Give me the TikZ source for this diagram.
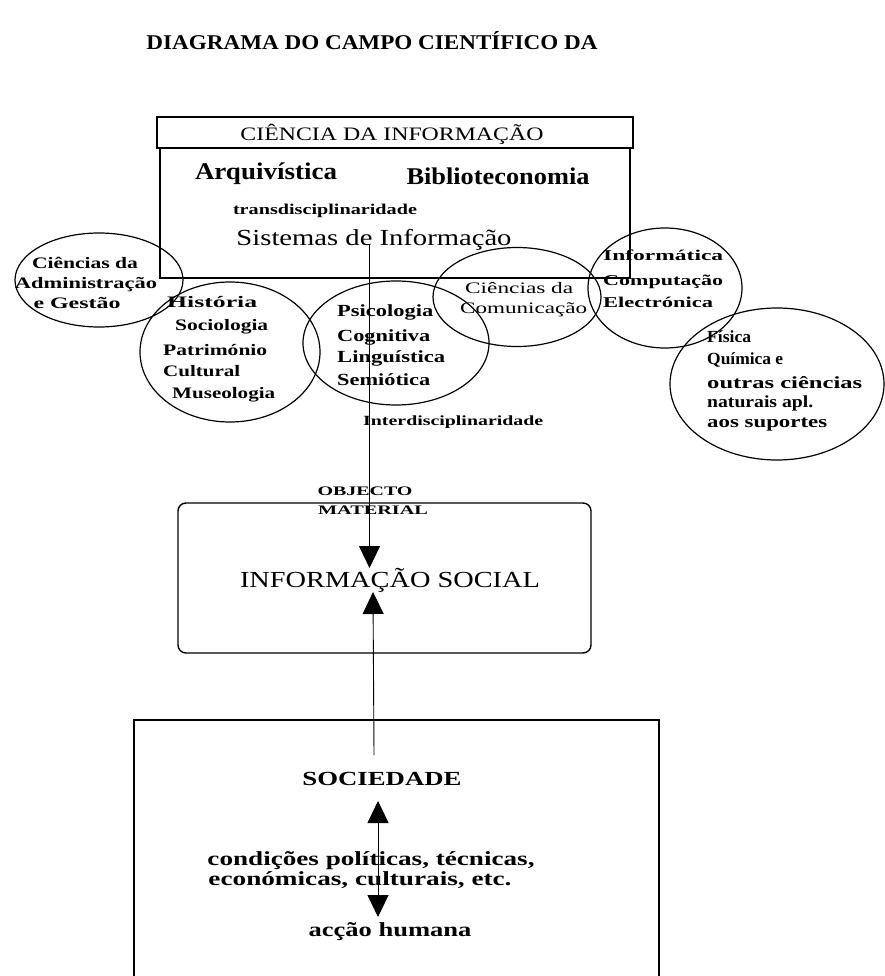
\documentclass[tikz,border=0pt]{standalone}
\usepackage{fontspec}
\setmainfont{Liberation Serif}
\usepackage{graphicx}
\usetikzlibrary{arrows.meta,shapes.geometric}
\newcommand\fsz[1]{\fontsize{#1pt}{#1pt}\selectfont}
\newcommand\fw[2]{\resizebox{#1pt}{\height}{#2}}
\begin{document}
\begin{tikzpicture}[x=1pt,y=-1pt,
  lbl/.style={inner sep=0pt, anchor=center},
  lft/.style={inner sep=0pt, anchor=west},
  boxst/.style={draw=black, line width=1.4pt, inner sep=0pt},
  ell/.style={draw=black, line width=1.2pt, ellipse, inner sep=0pt},
  conn/.style={draw=black, line width=0.9pt},
  tip/.style={-{Triangle[width=21pt,length=22pt]}},
  dtip/.style={{Triangle[width=21pt,length=22pt]}-{Triangle[width=21pt,length=22pt]}}]
\useasboundingbox (0,0) rectangle (884,976);

% title
\node[lbl] (title) at (372,41) {\fsz{21}\bfseries\fw{451}{DIAGRAMA DO CAMPO CIENTÍFICO DA}};

% top box
\node[boxst, minimum width=476pt, minimum height=31pt] (hdr) at (395,132.5) {};
\node[lbl] (hdrtxt) at (392,134) {\fsz{19}\fw{303}{CIÊNCIA DA INFORMAÇÃO}};
\node[boxst, minimum width=470pt, minimum height=130pt] (ci) at (395,213) {};
\node[lbl] (arq) at (266,174) {\fsz{24}\bfseries\fw{142}{Arquivística}};
\node[lbl] (bib) at (498,176) {\fsz{24}\bfseries\fw{183}{Biblioteconomia}};
\node[lbl] (trans) at (325,211) {\fsz{15}\bfseries\fw{184}{transdisciplinaridade}};
\node[lbl] (sis) at (374,240) {\fsz{23}\fw{275}{Sistemas de Informação}};

% ellipses
\node[ell, minimum width=168pt, minimum height=94pt] (adm) at (99,280) {};
\node[ell, minimum width=180pt, minimum height=140pt] (his) at (230,352) {};
\node[ell, minimum width=186pt, minimum height=124pt] (psi) at (396,343) {};
\node[ell, minimum width=168pt, minimum height=99pt] (com) at (517,297) {};
\node[ell, minimum width=154pt, minimum height=120pt] (inf) at (665,288) {};
\node[ell, minimum width=214pt, minimum height=152pt] (fis) at (777,384) {};

% administração
\node[lbl] (adm1) at (85,263) {\fsz{16}\bfseries\fw{106}{Ciências da}};
\node[lbl] (adm2) at (86,285) {\fsz{16}\bfseries\fw{142}{Administração}};
\node[lbl] (adm3) at (77,303) {\fsz{16}\bfseries\fw{87}{e Gestão}};

% história
\node[lft] (his1) at (167,302) {\fsz{16}\bfseries\fw{90}{História}};
\node[lft] (his2) at (175,327) {\fsz{16}\bfseries\fw{93}{Sociologia}};
\node[lft] (his3) at (163,350) {\fsz{16}\bfseries\fw{104}{Património}};
\node[lft] (his4) at (163,371) {\fsz{16}\bfseries\fw{77}{Cultural}};
\node[lft] (his5) at (172,395) {\fsz{16}\bfseries\fw{103}{Museologia}};

% psicologia
\node[lft] (psi1) at (337,312) {\fsz{17}\bfseries\fw{96}{Psicologia}};
\node[lft] (psi2) at (337,337) {\fsz{17}\bfseries\fw{93}{Cognitiva}};
\node[lft] (psi3) at (337,358) {\fsz{17}\bfseries\fw{108}{Linguística}};
\node[lft] (psi4) at (337,380) {\fsz{17}\bfseries\fw{93}{Semiótica}};

\node[lft] (inter) at (363,422) {\fsz{14}\bfseries\fw{180}{Interdisciplinaridade}};

% comunicação
\node[lft] (com1) at (465,288) {\fsz{16}\fw{108}{Ciências da}};
\node[lft] (com2) at (460,310) {\fsz{16}\fw{127}{Comunicação}};

% informática
\node[lft] (inf1) at (603,255) {\fsz{15}\bfseries\fw{120}{Informática}};
\node[lft] (inf2) at (603,282) {\fsz{15}\bfseries\fw{120}{Computação}};
\node[lft] (inf3) at (603,302) {\fsz{15}\bfseries\fw{110}{Electrónica}};

% física
\node[lft] (fis1) at (707,337) {\fsz{17}\bfseries\fw{44}{Física}};
\node[lft] (fis2) at (707,360) {\fsz{17}\bfseries\fw{76}{Química e}};
\node[lft] (fis3) at (707,383) {\fsz{17}\bfseries\fw{155}{outras ciências}};
\node[lft] (fis4) at (707,403) {\fsz{17}\bfseries\fw{106}{naturais apl.}};
\node[lft] (fis5) at (707,425) {\fsz{17}\bfseries\fw{120}{aos suportes}};

% middle box
\node[boxst, rounded corners=8pt, minimum width=413pt, minimum height=150pt] (mid) at (384.5,578) {};
\node[lbl] (obj1) at (365,491) {\fsz{13}\bfseries\fw{95}{OBJECTO}};
\node[lbl] (obj2) at (373,510) {\fsz{13}\bfseries\fw{110}{MATERIAL}};
\node[lbl] (infosoc) at (390,580) {\fsz{23}\fw{300}{INFORMAÇÃO SOCIAL}};

% bottom box (extends past page bottom)
\node[boxst, minimum width=525pt, minimum height=300pt] (socbox) at (396.5,870) {};
\node[lbl] (soc) at (382,779) {\fsz{20}\bfseries\fw{159}{SOCIEDADE}};
\node[lbl] (cond1) at (371,861) {\fsz{20}\bfseries\fw{327}{condições políticas, técnicas,}};
\node[lbl] (cond2) at (360,880) {\fsz{20}\bfseries\fw{303}{económicas, culturais, etc.}};
\node[lbl] (acc) at (390,932) {\fsz{20}\bfseries\fw{163}{acção humana}};

% connectors
\coordinate (s1) at (369.5,245);
\coordinate (e1) at (369.5,568);
\draw[conn, tip] (s1) -- (e1);
\coordinate (s2) at (374,755);
\coordinate (e2) at (373,592);
\draw[conn, tip] (s2) -- (e2);
\coordinate (s3) at (378,801);
\coordinate (e3) at (378,917);
\draw[conn, dtip] (s3) -- (e3);
\end{tikzpicture}
\end{document}
